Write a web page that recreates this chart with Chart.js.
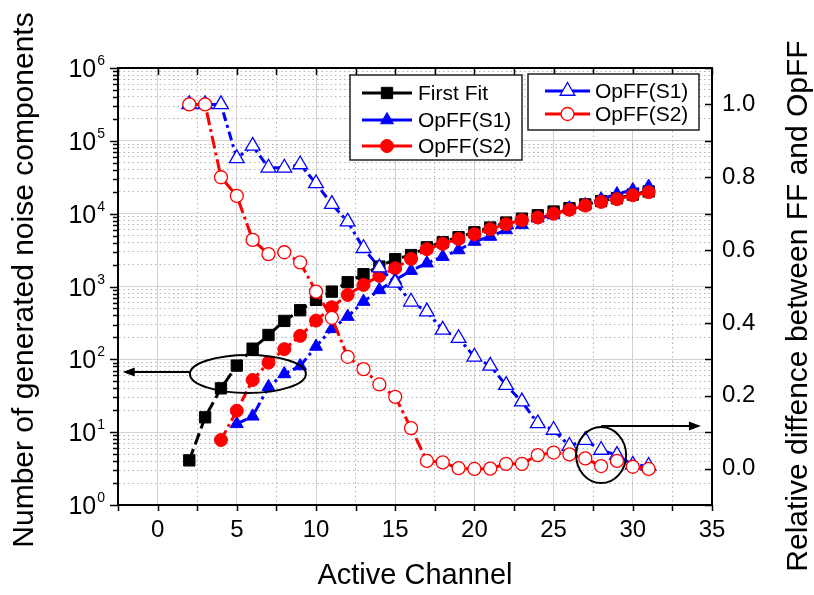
<!DOCTYPE html>
<html>
<head>
<meta charset="utf-8">
<script src="https://cdn.jsdelivr.net/npm/chart.js@4.4.1/dist/chart.umd.min.js"></script>
<style>
  html, body { margin: 0; padding: 0; background: #fff; }
</style>
</head>
<body>
<canvas id="noiseChart" width="814" height="595"></canvas>
<script>
// data
const channels = [2, 3, 4, 5, 6, 7, 8, 9, 10, 11, 12, 13, 14, 15, 16, 17, 18, 19, 20, 21, 22, 23, 24, 25, 26, 27, 28, 29, 30, 31];
const firstFit = [4.1, 16, 40, 82, 140, 216, 337, 472, 655, 851, 1145, 1476, 1877, 2370, 2700, 3450, 4050, 4750, 5550, 6450, 7550, 8550, 9500, 10700, 11900, 13400, 14900, 16300, 18300, 20200];
const opffS1 = [null, null, null, 13, 16.5, 42, 63, 81, 150, 262, 386, 621, 898, 1230, 1650, 2090, 2570, 3170, 4140, 4850, 5980, 7020, 8670, 9560, 11900, 13200, 15800, 18600, 21200, 23600];
const opffS2 = [null, null, 7.8, 19.7, 52, 90, 138, 210, 340, 519, 767, 1052, 1400, 1780, 2390, 3250, 3850, 4500, 5230, 6120, 7170, 8140, 8850, 10000, 11300, 12900, 14500, 15800, 17900, 19700];
// relative difference (right axis)
const relS1 = [1.0, 1.0, 1.0, 0.852, 0.886, 0.826, 0.826, 0.835, 0.783, 0.726, 0.678, 0.605, 0.552, 0.51, 0.458, 0.431, 0.381, 0.358, 0.307, 0.282, 0.229, 0.184, 0.124, 0.106, 0.062, 0.078, 0.051, 0.037, 0.010, 0.007];
const relS2 = [1.0, 1.0, 0.80, 0.749, 0.628, 0.589, 0.594, 0.566, 0.486, 0.414, 0.307, 0.273, 0.231, 0.197, 0.111, 0.021, 0.017, 0.001, -0.001, 0.0, 0.013, 0.013, 0.037, 0.044, 0.039, 0.028, 0.007, 0.021, 0.005, -0.001];

const decadeExponents = [0, 1, 2, 3, 4, 5, 6];
const xTickLabels = ['0', '5', '10', '15', '20', '25', '30', '35'];
const rightTickLabels = ['0.0', '0.2', '0.4', '0.6', '0.8', '1.0'];

// annotation anchors (data units)
const leftNote = {x: 5.7, y: 63, arrowTo: -2.2};
const rightNote = {x: 28.0, y: 0.037, arrowTo: 34.3};

const FONT = 'Liberation Sans, Arial, Helvetica, sans-serif';
Chart.defaults.font.family = FONT;
Chart.defaults.color = '#000';

const MAJOR_GRID = '#d2d2d2';
const MINOR_GRID = '#b4b4b4';

function pts(arr) {
    return channels.map((c, i) => ({x: c, y: arr[i]})).filter(p => p.y !== null);
}

function isDecade(v) {
    const l = Math.log10(v);
    return Math.abs(l - Math.round(l)) < 1e-9;
}

const datasets = [
    {label: 'First Fit', data: pts(firstFit), yAxisID: 'y', order: 4,
        borderColor: '#000', backgroundColor: '#000', borderWidth: 3, borderDash: [12, 5],
        pointStyle: 'rect', pointRadius: 8, pointBorderWidth: 1, legendBox: 0},
    {label: 'OpFF(S1)', data: pts(opffS1), yAxisID: 'y', order: 3,
        borderColor: '#0000ff', backgroundColor: '#0000ff', borderWidth: 3, borderDash: [11, 4, 3, 4],
        pointStyle: 'triangle', pointRadius: 7.5, pointBorderWidth: 1, legendBox: 0},
    {label: 'OpFF(S2)', data: pts(opffS2), yAxisID: 'y', order: 2,
        borderColor: '#ff0000', backgroundColor: '#ff0000', borderWidth: 3, borderDash: [11, 4, 3, 4],
        pointStyle: 'circle', pointRadius: 6.5, pointBorderWidth: 1, legendBox: 0},
    {label: 'OpFF(S1)', data: pts(relS1), yAxisID: 'y1', order: 1,
        borderColor: '#0000ff', backgroundColor: '#fff', pointBorderColor: '#0000ff', borderWidth: 3, borderDash: [9, 4, 3, 4],
        pointStyle: 'triangle', pointRadius: 8.5, pointBorderWidth: 1.3, legendBox: 1},
    {label: 'OpFF(S2)', data: pts(relS2), yAxisID: 'y1', order: 0,
        borderColor: '#ff0000', backgroundColor: '#fff', pointBorderColor: '#ff0000', borderWidth: 3, borderDash: [13, 4, 3, 4],
        pointStyle: 'circle', pointRadius: 6.5, pointBorderWidth: 1.3, legendBox: 1}
];

function arrowHead(ctx, x, y, dir) {
    ctx.beginPath();
    ctx.moveTo(x, y);
    ctx.lineTo(x - dir * 12, y - 4.5);
    ctx.lineTo(x - dir * 12, y + 4.5);
    ctx.closePath();
    ctx.fill();
}

function drawLegendBox(ctx, chart, idx, box) {
    ctx.save();
    ctx.fillStyle = '#fff';
    ctx.strokeStyle = '#222';
    ctx.lineWidth = 1.5;
    ctx.fillRect(box.x, box.y, box.w, box.h);
    ctx.strokeRect(box.x, box.y, box.w, box.h);
    const items = chart.data.datasets.filter(d => d.legendBox === idx);
    items.forEach((d, i) => {
        const y = box.rowY[i];
        ctx.strokeStyle = d.borderColor;
        ctx.lineWidth = 3;
        ctx.setLineDash([]);
        ctx.beginPath();
        ctx.moveTo(box.x + box.lineX0, y);
        ctx.lineTo(box.x + box.lineX1, y);
        ctx.stroke();
        ctx.fillStyle = d.backgroundColor;
        ctx.strokeStyle = d.pointBorderColor || d.borderColor;
        ctx.lineWidth = d.pointBorderWidth;
        Chart.helpers.drawPoint(ctx, {pointStyle: d.pointStyle, radius: d.pointRadius, rotation: 0, borderWidth: d.pointBorderWidth},
            box.x + (box.lineX0 + box.lineX1) / 2, y);
        ctx.fillStyle = '#000';
        ctx.font = '21px ' + FONT;
        ctx.textBaseline = 'middle';
        ctx.textAlign = 'left';
        ctx.fillText(d.label, box.x + box.textX, y + 1);
    });
    ctx.restore();
}

const framePlugin = {
    id: 'frame',
    afterDraw(chart) {
        const ctx = chart.ctx;
        const a = chart.chartArea;
        const {x, y, y1} = chart.scales;
        ctx.save();
        ctx.strokeStyle = '#000';
        ctx.fillStyle = '#000';

        // top frame
        ctx.lineWidth = 2;
        ctx.beginPath();
        ctx.moveTo(a.left - 1, a.top);
        ctx.lineTo(a.right + 1, a.top);
        ctx.stroke();

        // tick marks
        ctx.lineWidth = 1.5;
        ctx.beginPath();
        x.ticks.forEach(t => {
            const px = Math.round(x.getPixelForValue(t.value)) + 0.5;
            ctx.moveTo(px, a.bottom); ctx.lineTo(px, a.bottom + 6);
            ctx.moveTo(px, a.top); ctx.lineTo(px, a.top + 7);
        });
        y.ticks.forEach(t => {
            const py = Math.round(y.getPixelForValue(t.value)) + 0.5;
            const len = isDecade(t.value) ? 8 : 5;
            ctx.moveTo(a.left - len, py); ctx.lineTo(a.left, py);
        });
        y1.ticks.forEach(t => {
            const py = Math.round(y1.getPixelForValue(t.value)) + 0.5;
            ctx.moveTo(a.right - 7, py); ctx.lineTo(a.right, py);
        });
        ctx.stroke();

        // left decade labels with superscript
        decadeExponents.forEach(e => {
            const py = y.getPixelForValue(Math.pow(10, e));
            ctx.font = '14px ' + FONT;
            const sup = String(e);
            const sw = ctx.measureText(sup).width;
            ctx.textAlign = 'right';
            ctx.textBaseline = 'alphabetic';
            ctx.fillText(sup, 105, py - 3);
            ctx.font = '25px ' + FONT;
            ctx.fillText('10', 105 - sw - 1, py + 9);
        });

        // vertical axis titles
        ctx.font = '30px ' + FONT;
        ctx.textAlign = 'center';
        ctx.textBaseline = 'alphabetic';
        ctx.save();
        ctx.translate(33, 280);
        ctx.rotate(-Math.PI / 2);
        ctx.fillText('Number of generated noise components', 0, 0);
        ctx.restore();
        ctx.save();
        ctx.translate(807, 306);
        ctx.rotate(-Math.PI / 2);
        ctx.fillText('Relative diffence between FF and OpFF', 0, 0);
        ctx.restore();

        // annotation: ellipse + arrow to left axis
        ctx.lineWidth = 2;
        const ex = x.getPixelForValue(leftNote.x);
        const ey = y.getPixelForValue(leftNote.y);
        ctx.beginPath();
        ctx.ellipse(ex, ey, 58, 19, 0, 0, Math.PI * 2);
        ctx.stroke();
        const lx = x.getPixelForValue(leftNote.arrowTo);
        ctx.beginPath();
        ctx.moveTo(ex - 58, ey - 2);
        ctx.lineTo(lx + 8, ey - 2);
        ctx.stroke();
        arrowHead(ctx, lx, ey - 2, -1);

        // annotation: circle + arrow to right axis
        const cx = x.getPixelForValue(rightNote.x);
        const cy = y1.getPixelForValue(rightNote.y);
        ctx.beginPath();
        ctx.ellipse(cx, cy, 25, 28, 0, 0, Math.PI * 2);
        ctx.stroke();
        const rx = x.getPixelForValue(rightNote.arrowTo);
        ctx.beginPath();
        ctx.moveTo(cx, cy - 29);
        ctx.lineTo(rx - 8, cy - 29);
        ctx.stroke();
        arrowHead(ctx, rx, cy - 29, 1);
        ctx.restore();

        // legends
        drawLegendBox(ctx, chart, 0, {x: 350, y: 75, w: 172, h: 85, rowY: [93, 120, 146],
            lineX0: 12, lineX1: 62, textX: 68});
        drawLegendBox(ctx, chart, 1, {x: 528, y: 74, w: 171, h: 56, rowY: [91, 114],
            lineX0: 17, lineX1: 62, textX: 67});
    }
};

new Chart(document.getElementById('noiseChart'), {
    type: 'line',
    data: {datasets: datasets},
    plugins: [framePlugin],
    options: {
        responsive: false,
        devicePixelRatio: 1,
        animation: false,
        layout: {padding: {top: 68, left: 0, right: 0, bottom: 0}},
        plugins: {legend: {display: false}, tooltip: {enabled: false}},
        elements: {line: {tension: 0}},
        scales: {
            x: {
                type: 'linear', min: -2.5, max: 35,
                afterFit: s => { s.height = 90; },
                ticks: {
                    stepSize: 2.5, autoSkip: false, maxRotation: 0, padding: 11,
                    font: {size: 24},
                    callback: v => xTickLabels.includes(String(v)) ? String(v) : ''
                },
                grid: {
                    drawTicks: false,
                    color: c => (c.tick && c.tick.value % 5 !== 0) ? MINOR_GRID : MAJOR_GRID,
                    lineWidth: 1
                },
                border: {
                    color: '#000', width: 2,
                    dash: c => (c.tick && c.tick.value % 5 !== 0) ? [1.5, 3] : []
                },
                title: {display: true, text: 'Active Channel', font: {size: 29}, padding: {top: 0, bottom: 2}}
            },
            y: {
                type: 'logarithmic', position: 'left', min: 1, max: 1e6,
                afterFit: s => { s.width = 118; },
                afterBuildTicks: s => {
                    const t = [];
                    decadeExponents.forEach(e => {
                        for (let m = 1; m <= 9; m++) {
                            const v = m * Math.pow(10, e);
                            if (v <= 1e6) t.push({value: v, major: m === 1});
                        }
                    });
                    s.ticks = t;
                },
                ticks: {display: false},
                grid: {
                    drawTicks: false,
                    color: c => (c.tick && !isDecade(c.tick.value)) ? MINOR_GRID : MAJOR_GRID,
                    lineWidth: 1
                },
                border: {
                    color: '#000', width: 2,
                    dash: c => (c.tick && !isDecade(c.tick.value)) ? [1.5, 3] : []
                }
            },
            y1: {
                type: 'linear', position: 'right', min: -0.1, max: 1.1,
                afterFit: s => { s.width = 102; },
                ticks: {
                    stepSize: 0.1, autoSkip: false, padding: 10,
                    font: {size: 24},
                    callback: v => {
                        const lbl = (Math.round(v * 10) / 10).toFixed(1);
                        return rightTickLabels.includes(lbl) ? lbl : '';
                    }
                },
                grid: {drawOnChartArea: false, drawTicks: false},
                border: {color: '#000', width: 2}
            }
        }
    }
});
</script>
</body>
</html>
